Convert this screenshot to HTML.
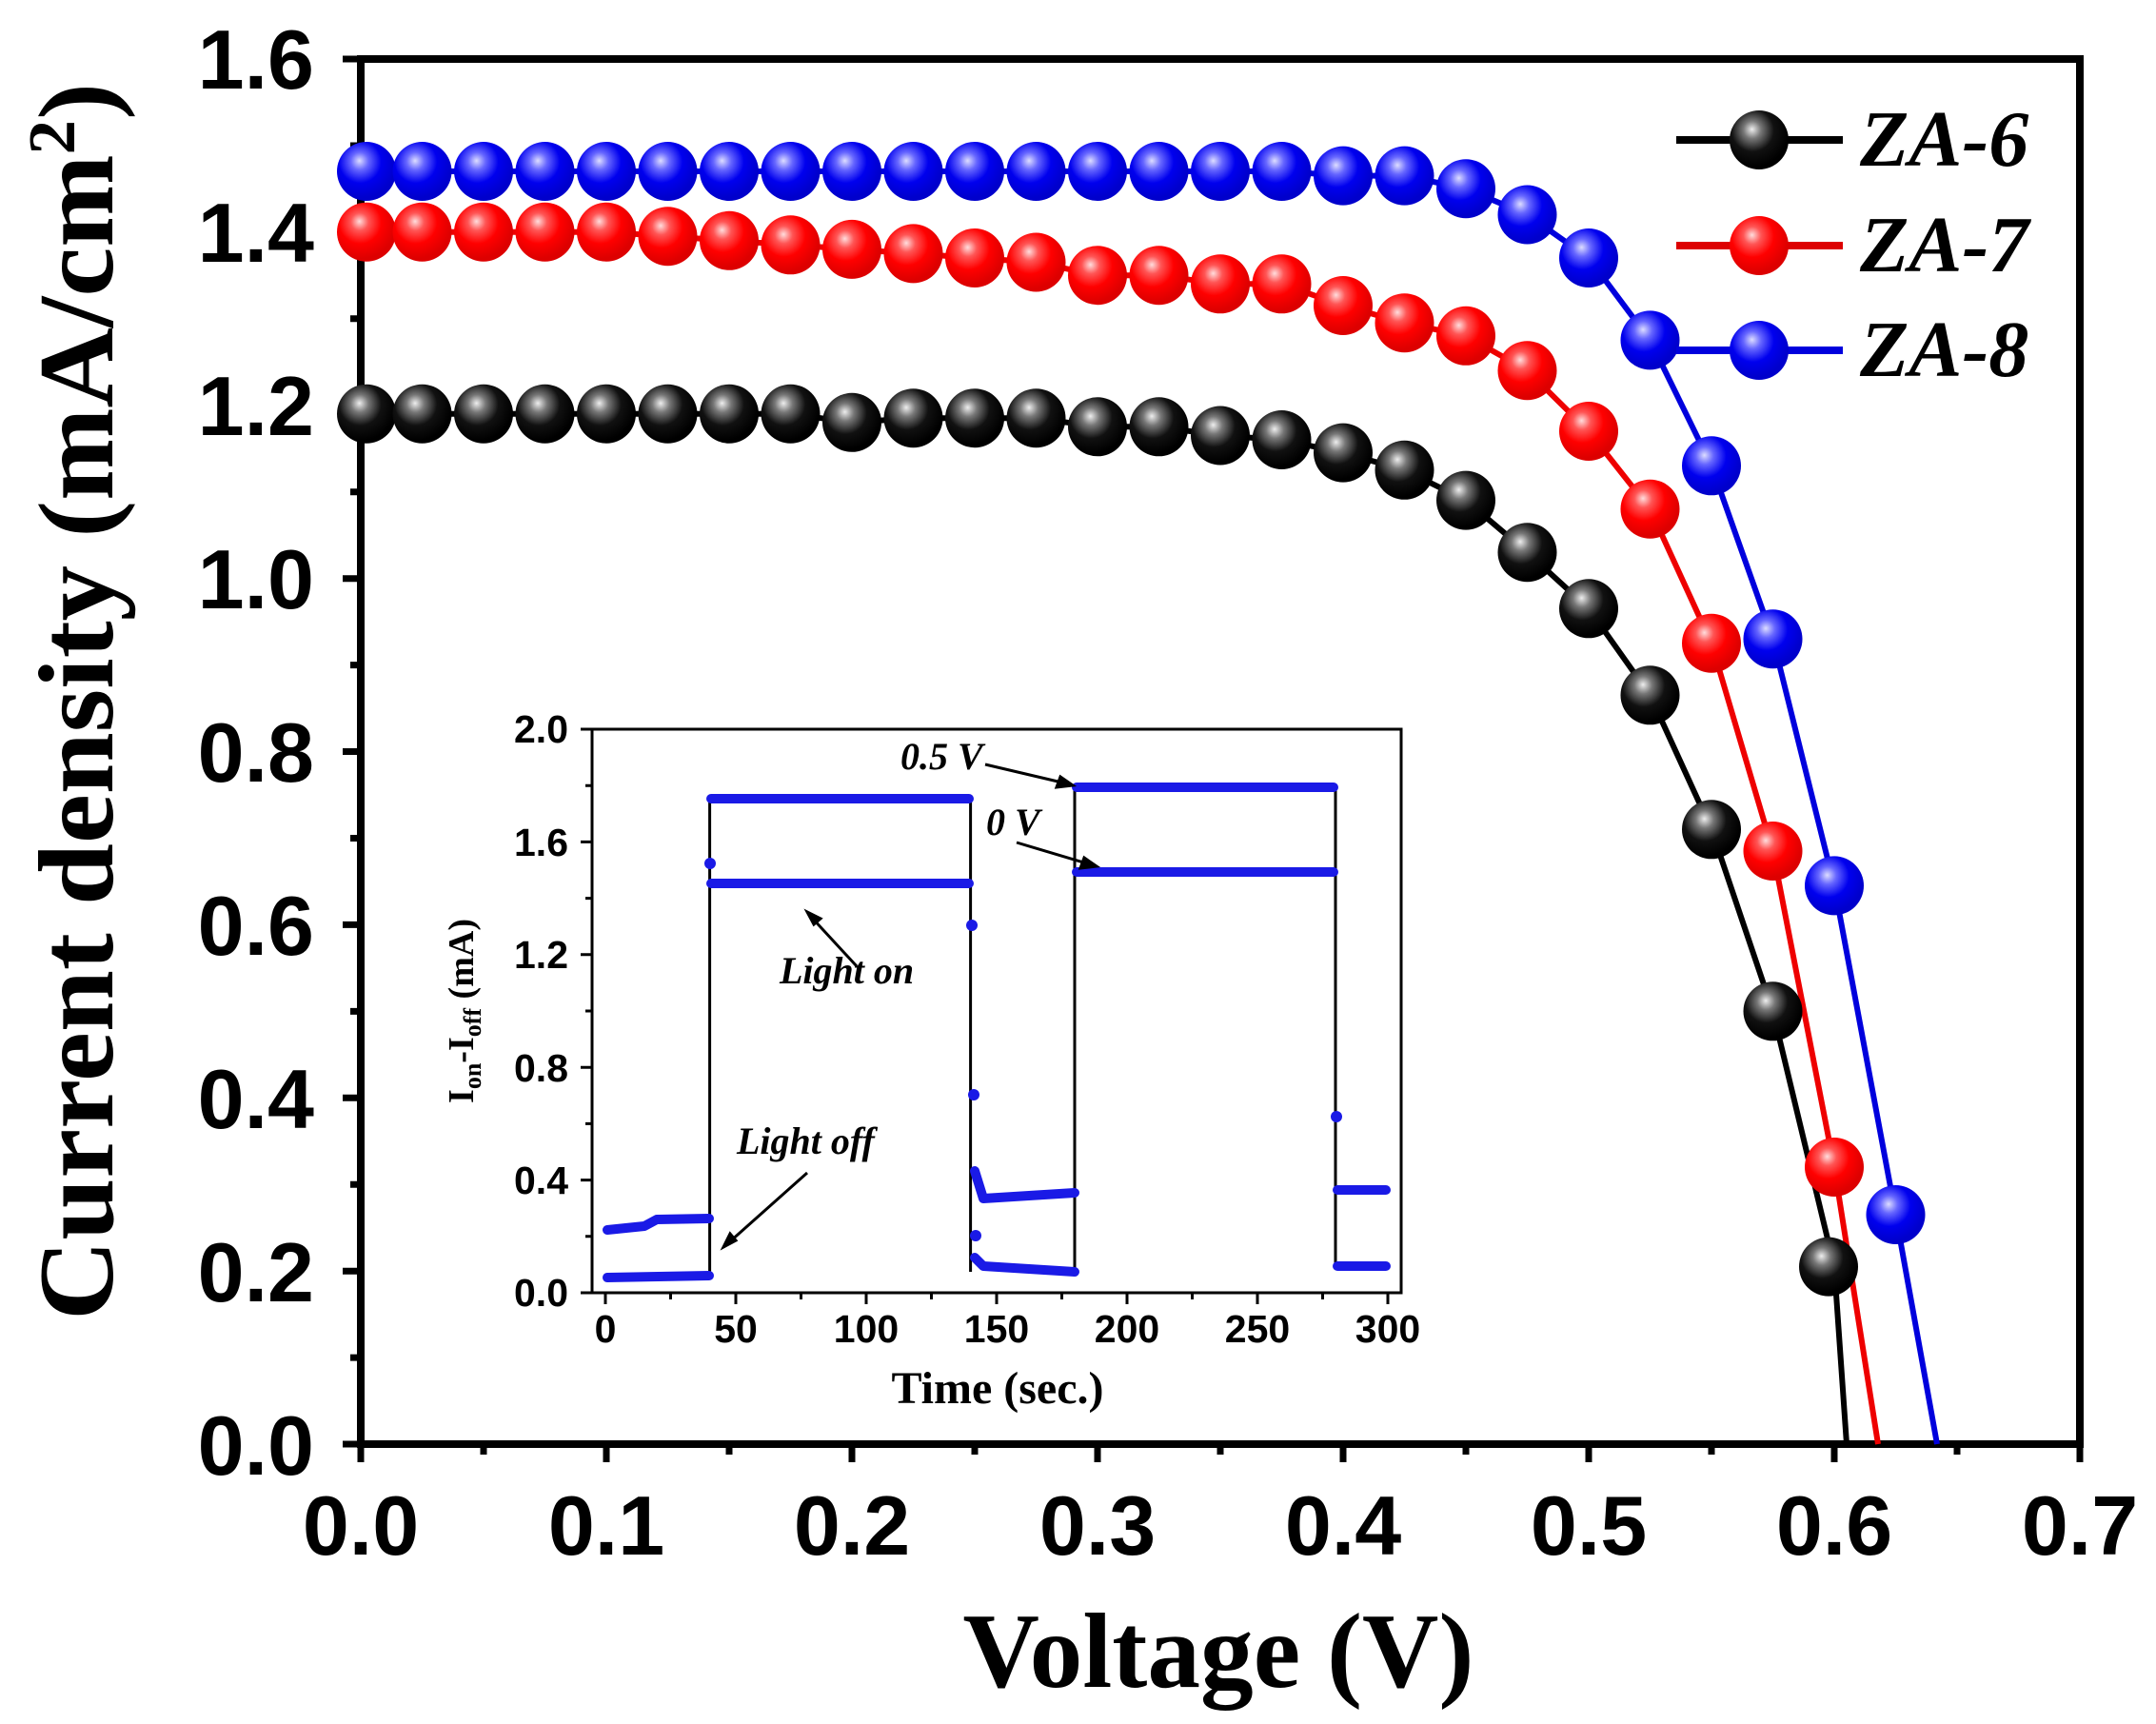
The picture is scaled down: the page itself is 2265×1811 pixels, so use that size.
<!DOCTYPE html>
<html><head><meta charset="utf-8"><style>html,body{margin:0;padding:0;background:#fff}svg{display:block}</style></head>
<body>
<svg width="2265" height="1811" viewBox="0 0 2265 1811" xmlns="http://www.w3.org/2000/svg">
<defs>
<radialGradient id="gk" cx="0.4" cy="0.35" r="0.6" fx="0.38" fy="0.32"><stop offset="0" stop-color="#eee"/><stop offset="0.25" stop-color="#777"/><stop offset="0.6" stop-color="#111"/><stop offset="1" stop-color="#000"/></radialGradient>
<radialGradient id="gr" cx="0.4" cy="0.35" r="0.6" fx="0.38" fy="0.32"><stop offset="0" stop-color="#fdd"/><stop offset="0.25" stop-color="#f55"/><stop offset="0.6" stop-color="#f00"/><stop offset="1" stop-color="#d00"/></radialGradient>
<radialGradient id="gb" cx="0.4" cy="0.35" r="0.6" fx="0.38" fy="0.32"><stop offset="0" stop-color="#ddf"/><stop offset="0.25" stop-color="#66f"/><stop offset="0.6" stop-color="#00e"/><stop offset="1" stop-color="#00c"/></radialGradient>
<circle id="mk" r="31" fill="url(#gk)"/><circle id="mr" r="31" fill="url(#gr)"/><circle id="mb" r="31" fill="url(#gb)"/>
</defs>
<rect width="2265" height="1811" fill="#fff"/>
<!-- main axes frame -->
<rect x="379" y="62" width="1806" height="1455" fill="none" stroke="#000" stroke-width="8"/>
<g stroke="#000" stroke-width="7">
<path d="M360 62H379M360 243.9H379M360 425.8H379M360 607.7H379M360 789.5H379M360 971.4H379M360 1153.3H379M360 1335.2H379M360 1517H379"/>
<path d="M368 153H379M368 334.8H379M368 516.7H379M368 698.6H379M368 880.5H379M368 1062.4H379M368 1244.2H379M368 1426.1H379"/>
<path d="M379 1517V1536M637 1517V1536M895 1517V1536M1153 1517V1536M1411 1517V1536M1669 1517V1536M1927 1517V1536M2185 1517V1536"/>
<path d="M508 1517V1528M766 1517V1528M1024 1517V1528M1282 1517V1528M1540 1517V1528M1798 1517V1528M2056 1517V1528"/>
</g>
<g font-family="Liberation Sans, sans-serif" font-weight="bold" font-size="88" text-anchor="end" fill="#000">
<text x="330" y="93">1.6</text><text x="330" y="275">1.4</text><text x="330" y="457">1.2</text><text x="330" y="639">1.0</text><text x="330" y="821">0.8</text><text x="330" y="1003">0.6</text><text x="330" y="1185">0.4</text><text x="330" y="1367">0.2</text><text x="330" y="1549">0.0</text>
</g>
<g font-family="Liberation Sans, sans-serif" font-weight="bold" font-size="88" text-anchor="middle" fill="#000">
<text x="379" y="1633">0.0</text><text x="637" y="1633">0.1</text><text x="895" y="1633">0.2</text><text x="1153" y="1633">0.3</text><text x="1411" y="1633">0.4</text><text x="1669" y="1633">0.5</text><text x="1927" y="1633">0.6</text><text x="2185" y="1633">0.7</text>
</g>
<text x="1280" y="1772" font-family="Liberation Serif, serif" font-weight="bold" font-size="112" text-anchor="middle" textLength="537" lengthAdjust="spacingAndGlyphs">Voltage (V)</text>
<text transform="translate(118,737) rotate(-90)" font-family="Liberation Serif, serif" font-weight="bold" font-size="112" text-anchor="middle" textLength="1300" lengthAdjust="spacingAndGlyphs">Current density (mA/cm<tspan font-size="70" dy="-40">2</tspan><tspan dy="40">)</tspan></text>

<!-- inset -->
<rect x="622" y="766" width="850" height="592" fill="none" stroke="#000" stroke-width="3"/>
<g stroke="#000" stroke-width="3">
<path d="M610 766H622M610 884.4H622M610 1002.8H622M610 1121.2H622M610 1239.6H622M610 1358H622"/>
<path d="M615 825.2H622M615 943.6H622M615 1062H622M615 1180.4H622M615 1298.8H622"/>
<path d="M636 1358V1370M773 1358V1370M910 1358V1370M1047 1358V1370M1184 1358V1370M1321 1358V1370M1458 1358V1370"/>
<path d="M704.5 1358V1365M841.5 1358V1365M978.5 1358V1365M1115.5 1358V1365M1252.5 1358V1365M1389.5 1358V1365"/>
</g>
<g font-family="Liberation Sans, sans-serif" font-weight="bold" font-size="41" text-anchor="end">
<text x="597" y="780">2.0</text><text x="597" y="899">1.6</text><text x="597" y="1017">1.2</text><text x="597" y="1136">0.8</text><text x="597" y="1254">0.4</text><text x="597" y="1372">0.0</text>
</g>
<g font-family="Liberation Sans, sans-serif" font-weight="bold" font-size="41" text-anchor="middle">
<text x="636" y="1410">0</text><text x="773" y="1410">50</text><text x="910" y="1410">100</text><text x="1047" y="1410">150</text><text x="1184" y="1410">200</text><text x="1321" y="1410">250</text><text x="1458" y="1410">300</text>
</g>
<text x="1048" y="1474" font-family="Liberation Serif, serif" font-weight="bold" font-size="48" text-anchor="middle">Time (sec.)</text>
<text transform="translate(497,1062) rotate(-90)" font-family="Liberation Serif, serif" font-weight="bold" font-size="38" text-anchor="middle">I<tspan font-size="26" dy="8">on</tspan><tspan dy="-8">-I</tspan><tspan font-size="26" dy="8">off</tspan><tspan dy="-8"> (mA)</tspan></text>
<g fill="none" stroke="#000" stroke-width="3">
<path d="M745.6 1342V839M1019.6 839V1336M1129 1336V827M1403 827V1330"/>
</g>
<g fill="none" stroke="#1a1ae6" stroke-width="10" stroke-linecap="round" stroke-linejoin="round">
<path d="M638 1342L745 1340"/>
<path d="M638 1292L677 1288L690 1281L745 1280"/>
<path d="M747 839H1018M747 928H1018"/>
<path d="M1024 1321L1033 1330L1129 1336"/>
<path d="M1024 1230L1033 1259L1129 1253"/>
<path d="M1131 827H1401M1131 916H1401"/>
<path d="M1405 1250H1456M1405 1330H1456"/>
</g>
<g fill="#1a1ae6"><circle cx="746" cy="907" r="6"/><circle cx="1021" cy="972" r="6"/><circle cx="1023" cy="1150" r="6"/><circle cx="1025" cy="1298" r="6"/><circle cx="1404" cy="1173" r="6"/></g>
<g font-family="Liberation Serif, serif" font-weight="bold" font-style="italic" font-size="40">
<text x="946" y="808">0.5 V</text><text x="1036" y="877">0 V</text><text x="819" y="1033">Light on</text><text x="774" y="1212">Light off</text>
</g>
<g stroke="#000" stroke-width="3" fill="#000">
<path d="M1035 803L1120 823"/><path d="M1127 825L1110 827L1114 816Z"/>
<path d="M1068 885L1145 908"/><path d="M1152 910L1135 912L1139 901Z"/>
<path d="M900 1015L852 963"/><path d="M848 958L862 965L855 971Z"/>
<path d="M848 1232L766 1305"/><path d="M760 1310L767 1296L773 1303Z"/>
</g>

<!-- series -->
<g fill="none" stroke-width="6" stroke-linejoin="round">
<polyline stroke="#000" points="379,434.7 443.5,434.7 508,434.7 572.5,434.7 637,434.7 701.5,434.7 766,434.7 830.5,434.7 895,443.8 959.5,439.2 1024,439.2 1088.5,439.2 1153,448.3 1217.5,448.3 1282,457.5 1346.5,462 1411,475.6 1475.5,493.8 1540,525.6 1604.5,580.2 1669,639.3 1733.5,730.3 1798,871.3 1862.5,1062.3 1927,1330.6 1940,1517"/>
<polyline stroke="#e00" points="379,243.7 443.5,243.7 508,243.7 572.5,243.7 637,243.7 701.5,248.2 766,252.8 830.5,257.3 895,261.9 959.5,266.4 1024,271 1088.5,275.5 1153,289.2 1217.5,289.2 1282,298.3 1346.5,298.3 1411,321 1475.5,339.2 1540,352.8 1604.5,389.2 1669,453 1733.5,534.7 1798,675.7 1862.5,894 1927,1226 1973,1517"/>
<polyline stroke="#00d" points="379,180 443.5,180 508,180 572.5,180 637,180 701.5,180 766,180 830.5,180 895,180 959.5,180 1024,180 1088.5,180 1153,180 1217.5,180 1282,180 1346.5,180 1411,184.6 1475.5,184.6 1540,198.2 1604.5,225.5 1669,271 1733.5,357.4 1798,489.3 1862.5,671.2 1927,930.4 1991.5,1276 2035,1517"/>
</g>
<g>
<use href="#mk" x="385" y="434.7"/><use href="#mk" x="443.5" y="434.7"/><use href="#mk" x="508" y="434.7"/><use href="#mk" x="572.5" y="434.7"/><use href="#mk" x="637" y="434.7"/><use href="#mk" x="701.5" y="434.7"/><use href="#mk" x="766" y="434.7"/><use href="#mk" x="830.5" y="434.7"/><use href="#mk" x="895" y="443.8"/><use href="#mk" x="959.5" y="439.2"/><use href="#mk" x="1024" y="439.2"/><use href="#mk" x="1088.5" y="439.2"/><use href="#mk" x="1153" y="448.3"/><use href="#mk" x="1217.5" y="448.3"/><use href="#mk" x="1282" y="457.5"/><use href="#mk" x="1346.5" y="462"/><use href="#mk" x="1411" y="475.6"/><use href="#mk" x="1475.5" y="493.8"/><use href="#mk" x="1540" y="525.6"/><use href="#mk" x="1604.5" y="580.2"/><use href="#mk" x="1669" y="639.3"/><use href="#mk" x="1733.5" y="730.3"/><use href="#mk" x="1798" y="871.3"/><use href="#mk" x="1862.5" y="1062.3"/><use href="#mk" x="1921" y="1330.6"/>
<use href="#mr" x="385" y="243.7"/><use href="#mr" x="443.5" y="243.7"/><use href="#mr" x="508" y="243.7"/><use href="#mr" x="572.5" y="243.7"/><use href="#mr" x="637" y="243.7"/><use href="#mr" x="701.5" y="248.2"/><use href="#mr" x="766" y="252.8"/><use href="#mr" x="830.5" y="257.3"/><use href="#mr" x="895" y="261.9"/><use href="#mr" x="959.5" y="266.4"/><use href="#mr" x="1024" y="271"/><use href="#mr" x="1088.5" y="275.5"/><use href="#mr" x="1153" y="289.2"/><use href="#mr" x="1217.5" y="289.2"/><use href="#mr" x="1282" y="298.3"/><use href="#mr" x="1346.5" y="298.3"/><use href="#mr" x="1411" y="321"/><use href="#mr" x="1475.5" y="339.2"/><use href="#mr" x="1540" y="352.8"/><use href="#mr" x="1604.5" y="389.2"/><use href="#mr" x="1669" y="453"/><use href="#mr" x="1733.5" y="534.7"/><use href="#mr" x="1798" y="675.7"/><use href="#mr" x="1862.5" y="894"/><use href="#mr" x="1927" y="1226"/>
<use href="#mb" x="385" y="180"/><use href="#mb" x="443.5" y="180"/><use href="#mb" x="508" y="180"/><use href="#mb" x="572.5" y="180"/><use href="#mb" x="637" y="180"/><use href="#mb" x="701.5" y="180"/><use href="#mb" x="766" y="180"/><use href="#mb" x="830.5" y="180"/><use href="#mb" x="895" y="180"/><use href="#mb" x="959.5" y="180"/><use href="#mb" x="1024" y="180"/><use href="#mb" x="1088.5" y="180"/><use href="#mb" x="1153" y="180"/><use href="#mb" x="1217.5" y="180"/><use href="#mb" x="1282" y="180"/><use href="#mb" x="1346.5" y="180"/><use href="#mb" x="1411" y="184.6"/><use href="#mb" x="1475.5" y="184.6"/><use href="#mb" x="1540" y="198.2"/><use href="#mb" x="1604.5" y="225.5"/><use href="#mb" x="1669" y="271"/><use href="#mb" x="1733.5" y="357.4"/><use href="#mb" x="1798" y="489.3"/><use href="#mb" x="1862.5" y="671.2"/><use href="#mb" x="1927" y="930.4"/><use href="#mb" x="1991.5" y="1276"/>
</g>
<!-- legend -->
<g stroke-width="8">
<path d="M1761 147H1936" stroke="#000"/><path d="M1761 258H1936" stroke="#d00"/><path d="M1761 368H1936" stroke="#00d"/>
</g>
<use href="#mk" x="1848" y="147"/><use href="#mr" x="1848" y="258"/><use href="#mb" x="1848" y="368"/>
<g font-family="Liberation Serif, serif" font-weight="bold" font-style="italic" font-size="84">
<text x="1954" y="174">ZA-6</text><text x="1954" y="285">ZA-7</text><text x="1954" y="395">ZA-8</text>
</g>
</svg>
</body></html>
